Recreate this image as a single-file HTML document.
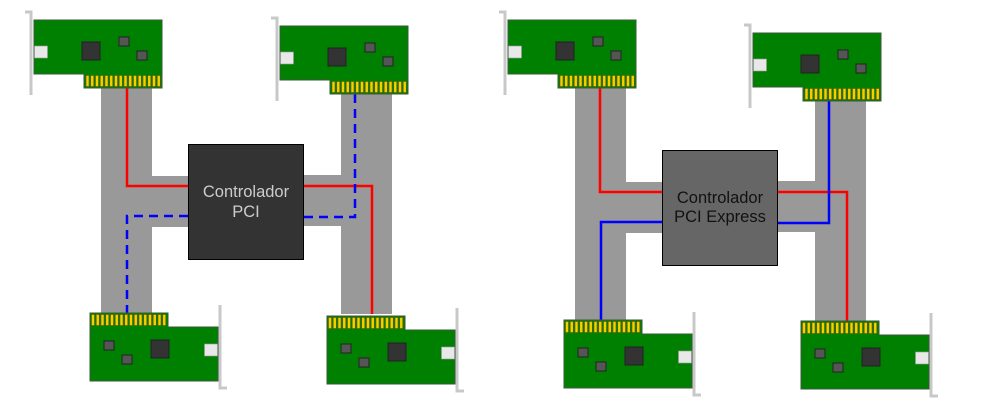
<!DOCTYPE html>
<html><head><style>body{margin:0;background:#fff}svg{display:block}</style></head><body>
<svg width="997" height="413" viewBox="0 0 997 413" xmlns="http://www.w3.org/2000/svg">
<defs>
<g id="fing">
<rect x="0" y="0" width="3" height="11" fill="#f5d000" stroke="#6a5a00" stroke-width="0.6"/>
</g>
<g id="top">
<path d="M-3,75 V-8 H-9" fill="none" stroke="#c8c8c8" stroke-width="3"/>
<path d="M0,0 H128 V68 H50 V54 H0 Z" fill="#008000" stroke="#3a5a3a" stroke-width="1"/>
<rect x="50.5" y="54.5" width="77" height="13" fill="#008000"/>
<g transform="translate(52,55.5)">
<use href="#fing" x="0"/><use href="#fing" x="4.75"/><use href="#fing" x="9.5"/><use href="#fing" x="14.25"/><use href="#fing" x="19"/><use href="#fing" x="23.75"/><use href="#fing" x="28.5"/><use href="#fing" x="33.25"/><use href="#fing" x="38"/><use href="#fing" x="42.75"/><use href="#fing" x="47.5"/><use href="#fing" x="52.25"/><use href="#fing" x="57"/><use href="#fing" x="61.75"/><use href="#fing" x="66.5"/><use href="#fing" x="71.25"/>
</g>
<rect x="0.5" y="26" width="13" height="12" fill="#e8e8e8" stroke="#999" stroke-width="0.6"/>
<rect x="48" y="22" width="18" height="18" fill="#333" stroke="#222"/>
<rect x="85" y="17" width="10" height="9" fill="#555" stroke="#222"/>
<rect x="103" y="31" width="10" height="9" fill="#555" stroke="#222"/>
</g>
<g id="bot">
<path d="M130,-8 V75 H137" fill="none" stroke="#c8c8c8" stroke-width="3"/>
<path d="M0,0 H78 V14 H128 V68 H0 Z" fill="#008000" stroke="#3a5a3a" stroke-width="1"/>
<g transform="translate(1.5,1.5)">
<use href="#fing" x="0"/><use href="#fing" x="4.75"/><use href="#fing" x="9.5"/><use href="#fing" x="14.25"/><use href="#fing" x="19"/><use href="#fing" x="23.75"/><use href="#fing" x="28.5"/><use href="#fing" x="33.25"/><use href="#fing" x="38"/><use href="#fing" x="42.75"/><use href="#fing" x="47.5"/><use href="#fing" x="52.25"/><use href="#fing" x="57"/><use href="#fing" x="61.75"/><use href="#fing" x="66.5"/><use href="#fing" x="71.25"/>
</g>
<rect x="114.5" y="31" width="13" height="12" fill="#e8e8e8" stroke="#999" stroke-width="0.6"/>
<rect x="61" y="27" width="18" height="18" fill="#333" stroke="#222"/>
<rect x="14" y="28" width="10" height="9" fill="#555" stroke="#222"/>
<rect x="32" y="42" width="10" height="9" fill="#555" stroke="#222"/>
</g>
</defs>

<!-- LEFT DIAGRAM -->
<g fill="#999">
<rect x="101" y="88" width="51" height="225"/>
<rect x="152" y="176" width="36" height="51"/>
<rect x="341" y="94" width="51" height="220"/>
<rect x="303" y="175" width="38" height="51"/>
</g>
<path d="M127,88 V186 H188 M303,186 H372 V314" fill="none" stroke="#f00" stroke-width="2.5"/>
<path d="M355,94 V217 H303 M188,216 H127 V313" fill="none" stroke="#00f" stroke-width="2.5" stroke-dasharray="9,6"/>
<rect x="188.5" y="144.5" width="115" height="115" fill="#333" stroke="#000"/>
<text x="246" y="197" font-family="Liberation Sans, sans-serif" font-size="16.5" fill="#ccc" text-anchor="middle">Controlador</text>
<text x="246" y="217" font-family="Liberation Sans, sans-serif" font-size="16.5" fill="#ccc" text-anchor="middle">PCI</text>
<use href="#top" x="34" y="20"/>
<use href="#top" x="280" y="26"/>
<use href="#bot" x="90" y="313"/>
<use href="#bot" x="327" y="316"/>

<!-- RIGHT DIAGRAM -->
<g fill="#999">
<rect x="575" y="88" width="51" height="233"/>
<rect x="626" y="182" width="36" height="51"/>
<rect x="815" y="100" width="51" height="222"/>
<rect x="777" y="181" width="38" height="51"/>
</g>
<path d="M600,88 V192 H662 M777,192 H847 V322" fill="none" stroke="#f00" stroke-width="2.5"/>
<path d="M829,100 V223 H777 M662,222 H601 V321" fill="none" stroke="#00f" stroke-width="2.5"/>
<rect x="662.5" y="150.5" width="115" height="115" fill="#666" stroke="#000"/>
<text x="720" y="203" font-family="Liberation Sans, sans-serif" font-size="16.5" fill="#111" text-anchor="middle">Controlador</text>
<text x="720" y="222" font-family="Liberation Sans, sans-serif" font-size="16.5" fill="#111" text-anchor="middle">PCI Express</text>
<use href="#top" x="508" y="20"/>
<use href="#top" x="753" y="33"/>
<use href="#bot" x="564" y="320"/>
<use href="#bot" x="801" y="321"/>
</svg>
</body></html>
